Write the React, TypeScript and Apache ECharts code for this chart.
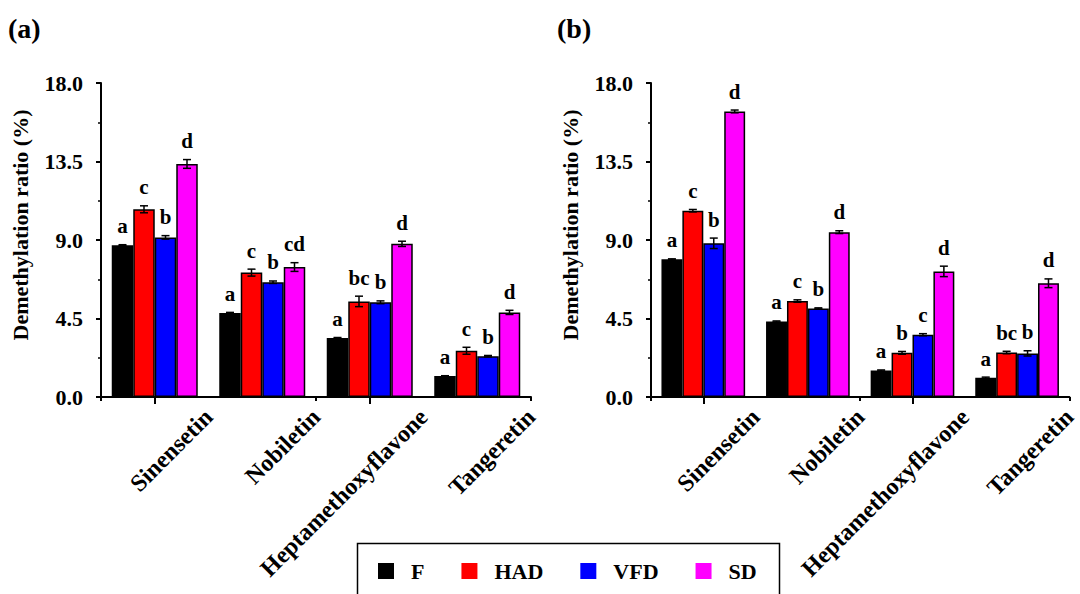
import React, { useEffect, useRef } from 'react';
import * as echarts from 'echarts';

const categories = ['Sinensetin', 'Nobiletin', 'Heptamethoxyflavone', 'Tangeretin'];
const groups = ['F', 'HAD', 'VFD', 'SD'];
const colors = ['#000000', '#ff0000', '#0000ff', '#ff00ff'];
const panelTitles = ['(a)', '(b)'];
const yMin = 0;
const yMax = 18;
const yInterval = 4.5;
const yName = 'Demethylation ratio (%)';

// Panel (a)
const aF = [8.7, 4.82, 3.38, 1.2];
const aHAD = [10.76, 7.13, 5.48, 2.65];
const aVFD = [9.15, 6.58, 5.43, 2.34];
const aSD = [13.36, 7.45, 8.78, 4.85];
const aF_err = [0.03, 0.03, 0.03, 0.02];
const aHAD_err = [0.2, 0.2, 0.3, 0.2];
const aVFD_err = [0.1, 0.07, 0.08, 0.04];
const aSD_err = [0.25, 0.25, 0.15, 0.12];
const aF_sig = ['a', 'a', 'a', 'a'];
const aHAD_sig = ['c', 'c', 'bc', 'c'];
const aVFD_sig = ['b', 'b', 'b', 'b'];
const aSD_sig = ['d', 'cd', 'd', 'd'];

// Panel (b)
const bF = [7.89, 4.33, 1.52, 1.1];
const bHAD = [10.68, 5.5, 2.53, 2.55];
const bVFD = [8.81, 5.08, 3.57, 2.5];
const bSD = [16.37, 9.45, 7.2, 6.52];
const bF_err = [0.03, 0.03, 0.03, 0.04];
const bHAD_err = [0.07, 0.07, 0.08, 0.07];
const bVFD_err = [0.3, 0.03, 0.06, 0.15];
const bSD_err = [0.08, 0.08, 0.3, 0.25];
const bF_sig = ['a', 'a', 'a', 'a'];
const bHAD_sig = ['c', 'c', 'b', 'bc'];
const bVFD_sig = ['b', 'b', 'c', 'b'];
const bSD_sig = ['d', 'd', 'd', 'd'];

const FONT = 'Liberation Serif';

const panels = [
  { values: [aF, aHAD, aVFD, aSD], errs: [aF_err, aHAD_err, aVFD_err, aSD_err], sigs: [aF_sig, aHAD_sig, aVFD_sig, aSD_sig] },
  { values: [bF, bHAD, bVFD, bSD], errs: [bF_err, bHAD_err, bVFD_err, bSD_err], sigs: [bF_sig, bHAD_sig, bVFD_sig, bSD_sig] },
];

const grids = [
  { left: 101, right: 549, top: 83, bottom: 197 },
  { left: 651, right: 3, top: 83, bottom: 197 },
];

function buildOption() {
  const xAxis: any[] = [];
  const yAxis: any[] = [];
  const series: any[] = [];
  const black = { color: '#000', width: 2 };
  panels.forEach((p, gi) => {
    xAxis.push({
      type: 'category', gridIndex: gi, position: 'bottom', data: categories, boundaryGap: true,
      axisLine: { show: true, lineStyle: black },
      axisTick: { show: true, length: 4, lineStyle: black },
      axisLabel: { show: false },
      splitLine: { show: false },
    });
    xAxis.push({
      type: 'category', gridIndex: gi, position: 'bottom', data: categories, boundaryGap: true,
      axisLine: { show: false },
      axisTick: { show: true, alignWithLabel: true, length: 7, lineStyle: black },
      axisLabel: { show: false },
      splitLine: { show: false },
    });
    xAxis.push({
      type: 'value', gridIndex: gi, position: 'bottom', min: 0, max: categories.length, interval: 1,
      axisLine: { show: false }, axisTick: { show: false }, splitLine: { show: false },
      axisLabel: {
        rotate: 45, margin: 16, showMinLabel: true, showMaxLabel: true,
        formatter: (v: number) => (v >= 1 ? categories[Math.round(v) - 1] : ''),
        fontFamily: FONT, fontWeight: 'bold', fontSize: 24, color: '#000',
      },
    });
    yAxis.push({
      type: 'value', gridIndex: gi, min: yMin, max: yMax, interval: yInterval,
      axisLine: { show: true, lineStyle: black },
      axisTick: { show: true, length: 5, lineStyle: black },
      minorTick: { show: true, splitNumber: 2, length: 3, lineStyle: { color: '#000', width: 1.5 } },
      splitLine: { show: false },
      minorSplitLine: { show: false },
      axisLabel: {
        formatter: (v: number) => v.toFixed(1), margin: 18,
        fontFamily: FONT, fontWeight: 'bold', fontSize: 22, color: '#000',
      },
      name: yName, nameLocation: 'middle', nameGap: 70,
      nameTextStyle: { fontFamily: FONT, fontWeight: 'bold', fontSize: 22, color: '#000', padding: [0, 0, 0, 30] },
    });
    groups.forEach((g, si) => {
      series.push({
        type: 'bar', name: g, xAxisIndex: gi * 3, yAxisIndex: gi,
        data: p.values[si], barGap: '0%', barCategoryGap: '20%',
        itemStyle: { color: colors[si], borderColor: '#000', borderWidth: 1.5 },
      });
    });
    const items: any[] = [];
    const sigs: string[] = [];
    groups.forEach((g, si) => {
      categories.forEach((c, ci) => {
        items.push([ci, p.values[si][ci], p.errs[si][ci], si]);
        sigs.push(p.sigs[si][ci]);
      });
    });
    series.push({
      type: 'custom', xAxisIndex: gi * 3, yAxisIndex: gi, z: 5,
      data: items,
      encode: { x: 0, y: 1 },
      renderItem: (params: any, api: any) => {
        const ci = api.value(0);
        const v = api.value(1);
        const e = api.value(2);
        const si = api.value(3);
        const catW = api.size([1, 0])[0];
        const bw = (catW * 0.8) / groups.length;
        const base = api.coord([ci, v]);
        const x = base[0] + (si - (groups.length - 1) / 2) * bw;
        const yTop = api.coord([ci, v + e])[1];
        const yBot = api.coord([ci, v - e])[1];
        const cap = 4;
        const ls = { stroke: '#000', lineWidth: 1.5 };
        return {
          type: 'group',
          children: [
            { type: 'line', shape: { x1: x, y1: yTop, x2: x, y2: yBot }, style: ls },
            { type: 'line', shape: { x1: x - cap, y1: yTop, x2: x + cap, y2: yTop }, style: ls },
            { type: 'line', shape: { x1: x - cap, y1: yBot, x2: x + cap, y2: yBot }, style: ls },
            {
              type: 'text',
              style: {
                text: sigs[params.dataIndex], x, y: yTop - 8, align: 'center', verticalAlign: 'bottom',
                fontFamily: FONT, fontWeight: 'bold', fontSize: 21, fill: '#000',
              },
            },
          ],
        };
      },
    });
  });

  return {
    animation: false,
    backgroundColor: '#fff',
    grid: grids,
    xAxis,
    yAxis,
    series,
    legend: {
      data: groups, left: 373, top: 555, itemWidth: 16, itemHeight: 16, itemGap: 37, icon: 'rect',
      itemStyle: { borderWidth: 0 },
      textStyle: { fontFamily: FONT, fontWeight: 'bold', fontSize: 22, color: '#000', padding: [0, 0, 0, 12] },
    },
    graphic: [
      { type: 'rect', left: 355, top: 541, shape: { width: 422, height: 80 }, style: { fill: 'none', stroke: '#000', lineWidth: 1.5 }, z: 10 },
      { type: 'text', left: 8, top: 14, style: { text: panelTitles[0], fontFamily: FONT, fontWeight: 'bold', fontSize: 28, fill: '#000' } },
      { type: 'text', left: 557, top: 14, style: { text: panelTitles[1], fontFamily: FONT, fontWeight: 'bold', fontSize: 28, fill: '#000' } },
    ],
  };
}

export default function App() {
  const ref = useRef<HTMLDivElement>(null);
  useEffect(() => {
    document.body.style.margin = '0';
    const chart = echarts.init(ref.current!, undefined, { renderer: 'svg' });
    chart.setOption(buildOption() as any);
    return () => chart.dispose();
  }, []);
  return <div ref={ref} style={{ width: 1080, height: 594 }} />;
}
